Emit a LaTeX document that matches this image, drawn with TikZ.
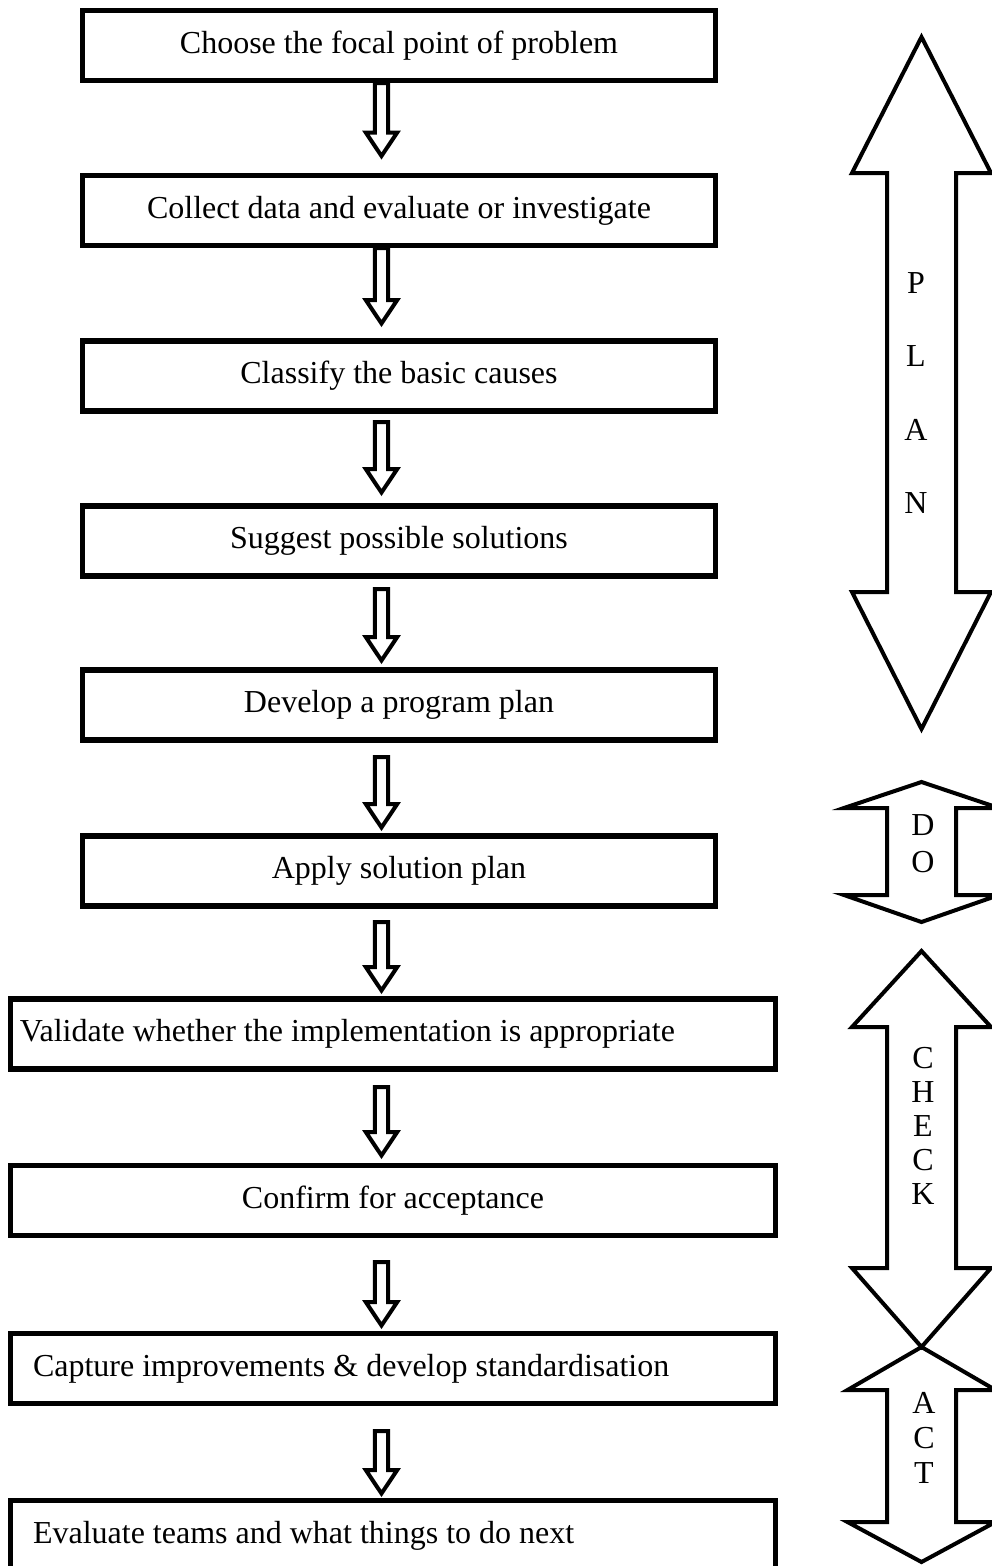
\documentclass[tikz,border=0pt]{standalone}
\usepackage{fontspec}
\setmainfont{Liberation Serif}
\usetikzlibrary{calc}

% hollow step arrow between two boxes: from, to, gap below from, gap above to (px)
\def\pxu{0.375pt}
\def\axx{143.06pt}
\def\shw{2.5pt}
\def\hdw{5.9pt}
\def\hdl{8.8pt}
\newcommand{\flowstep}[4]{%
  \draw[hollow] let \p1=(#1.south), \p2=(#2.north) in
    ({\axx-\shw},{\y1-(#3)*\pxu}) -- ({\axx-\shw},{\y2+(#4)*\pxu+\hdl})
    -- ({\axx-\hdw},{\y2+(#4)*\pxu+\hdl}) -- ({\axx},{\y2+(#4)*\pxu})
    -- ({\axx+\hdw},{\y2+(#4)*\pxu+\hdl}) -- ({\axx+\shw},{\y2+(#4)*\pxu+\hdl})
    -- ({\axx+\shw},{\y1-(#3)*\pxu}) -- cycle;}

% block double arrow: x, top tip, top base, bottom base, bottom tip, head half width
\newcommand{\phasearrow}[6]{%
  \draw[bigarrow] (#1,#2) -- (#1+#6,#3) -- (#1+34.5,#3) -- (#1+34.5,#4)
    -- (#1+#6,#4) -- (#1,#5) -- (#1-#6,#4) -- (#1-34.5,#4)
    -- (#1-34.5,#3) -- (#1-#6,#3) -- cycle;}

\begin{document}
\begin{tikzpicture}[
    x=0.375pt, y=-0.375pt,
    stepbox/.style={draw, line width=1.9pt, minimum height=26.25pt,
                    inner sep=0pt, font=\fontsize{12pt}{14pt}\selectfont},
    narrowbox/.style={stepbox, minimum width=237.4pt},
    widebox/.style={stepbox, minimum width=286.9pt},
    leftbox/.style={widebox, align=flush left, text width=#1},
    hollow/.style={draw, fill=white, line width=1.5pt},
    bigarrow/.style={draw, line width=1.5pt},
    letters/.style={align=center, inner sep=0pt,
                    font=\fontsize{12pt}{#1}\selectfont},
  ]
    \useasboundingbox (0,0) rectangle (992,1566);

    % Steps
    \node[narrowbox] (focal) at (399,45.5) {Choose the focal point of problem};
    \node[narrowbox] (collect) at (399,210.5) {Collect data and evaluate or investigate};
    \node[narrowbox] (classify) at (399,376) {Classify the basic causes};
    \node[narrowbox] (suggest) at (399,541) {Suggest possible solutions};
    \node[narrowbox] (develop) at (399,705) {Develop a program plan};
    \node[narrowbox] (apply) at (399,871) {Apply solution plan};
    \node[leftbox=279.75pt] (validate) at (393,1034)
      {Validate whether the implementation is appropriate};
    \node[widebox] (confirm) at (393,1200.5) {Confirm for acceptance};
    \node[leftbox=270pt] (capture) at (393,1368.5)
      {Capture improvements \& develop standardisation};
    \node[leftbox=270pt] (evaluate) at (393,1535.5)
      {Evaluate teams and what things to do next};

    % Arrows
    \flowstep{focal}{collect}{0}{17}
    \flowstep{collect}{classify}{0}{15}
    \flowstep{classify}{suggest}{8.5}{11}
    \flowstep{suggest}{develop}{10.5}{7}
    \flowstep{develop}{apply}{14.5}{6}
    \flowstep{apply}{validate}{13.5}{6}
    \flowstep{validate}{confirm}{15.5}{7.5}
    \flowstep{confirm}{capture}{24}{5.5}
    \flowstep{capture}{evaluate}{25}{4.5}

    % PDCA phases
    \phasearrow{921.5}{37}{173}{592}{729}{69.5}
    \phasearrow{921.5}{782}{808}{895}{922}{77.5}
    \phasearrow{921.5}{951}{1027}{1268}{1347}{69.5}
    \phasearrow{921.5}{1347}{1390}{1522}{1562}{74}

    \node[letters=27.4pt] (plan) at (916,393) {P\\L\\A\\N};
    \node[letters=13.9pt] (do) at (923,843.5) {D\\O};
    \node[letters=12.75pt] (check) at (923,1126) {C\\H\\E\\C\\K};
    \node[letters=13.1pt] (act) at (924,1437.5) {A\\C\\T};
\end{tikzpicture}
\end{document}
